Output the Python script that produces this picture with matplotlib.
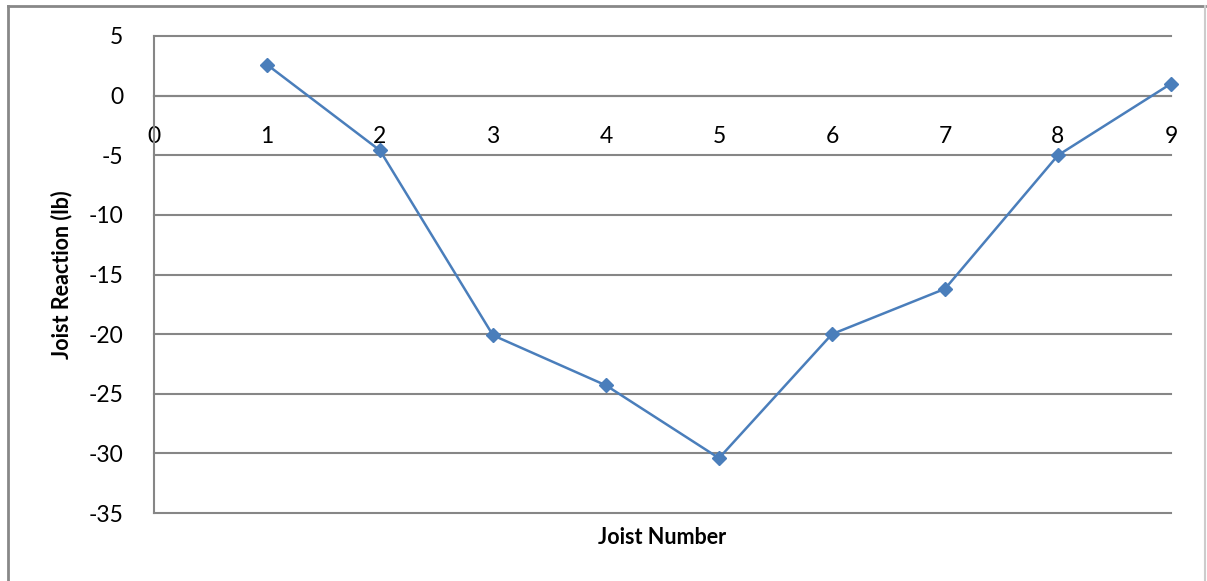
import matplotlib
matplotlib.use("Agg")
import matplotlib.pyplot as plt
from matplotlib.lines import Line2D

# joist reactions
joist_no = [1, 2, 3, 4, 5, 6, 7, 8, 9]
reaction = [2.6, -4.6, -20.1, -24.3, -30.4, -20.0, -16.2, -5.0, 1.0]
x_ticks = [0, 1, 2, 3, 4, 5, 6, 7, 8, 9]
y_ticks = [5, 0, -5, -10, -15, -20, -25, -30, -35]

plt.rcParams['font.family'] = ['Lato', 'DejaVu Sans']
plt.rcParams['axes.unicode_minus'] = False
grid_col = '#868686'
line_col = '#4a7ebb'

fig = plt.figure(figsize=(12.07, 5.81), dpi=100)
ax = fig.add_axes([154/1207, 1 - 513/581, 1017/1207, 477/581])

ax.plot(joist_no, reaction, color=line_col, lw=1.8, marker='D', ms=7,
        markerfacecolor=line_col, markeredgecolor=line_col, zorder=3, clip_on=False)

ax.set_xlim(0, 9)
ax.set_ylim(-35, 5)
ax.set_yticks(y_ticks)
ax.set_xticks(x_ticks)
ax.yaxis.grid(True, color=grid_col, lw=1.5)
for gl in ax.get_ygridlines():
    gl.set_clip_on(False)

for s in ['top', 'right']:
    ax.spines[s].set_visible(False)
ax.spines['left'].set_color(grid_col)
ax.spines['left'].set_linewidth(1.5)
ax.spines['bottom'].set_position(('data', 0))
ax.spines['bottom'].set_color(grid_col)
ax.spines['bottom'].set_linewidth(1.5)
ax.tick_params(length=0, labelsize=16.5)
ax.tick_params(axis='y', pad=22)
ax.tick_params(axis='x', pad=22)

ax.set_ylabel('Joist Reaction (lb)', fontsize=15.5, fontweight='bold', labelpad=12)
ax.set_xlabel('Joist Number', fontsize=15.5, fontweight='bold')
ax.xaxis.set_label_coords(0.5, -0.03)

# outer chart frame
fig.add_artist(Line2D([8/1207, 8/1207], [0, 1 - 6/581], color='#888888', lw=2,
                      transform=fig.transFigure))
fig.add_artist(Line2D([8/1207, 1205/1207], [1 - 6/581, 1 - 6/581], color='#888888', lw=2,
                      transform=fig.transFigure))
fig.add_artist(Line2D([1205/1207, 1205/1207], [0, 1 - 6/581], color='#cccccc', lw=1.5,
                      transform=fig.transFigure))

fig.savefig('out.png', dpi=100)
